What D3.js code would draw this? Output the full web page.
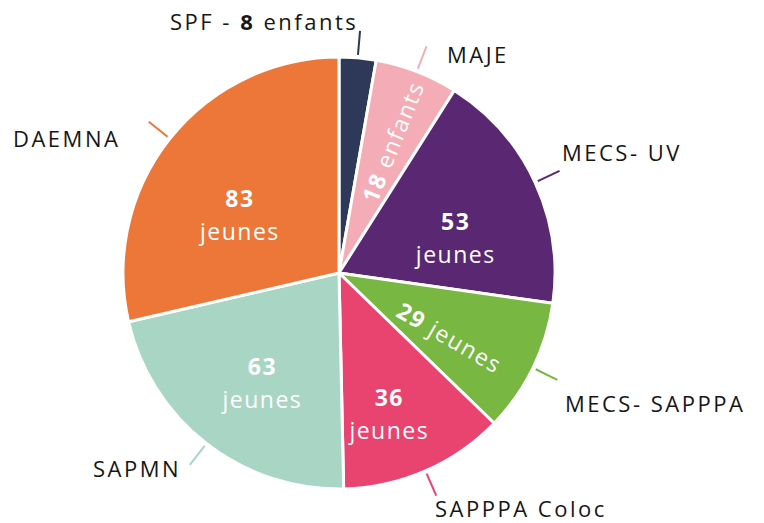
<!DOCTYPE html>
<html><head><meta charset="utf-8">
<script src="https://cdn.jsdelivr.net/npm/d3@7"></script>
<style>
html,body{margin:0;padding:0;background:#fff;}
svg{display:block;}
text{font-family:"Open Sans","Lato",sans-serif;}
</style></head>
<body>
<svg id="chart" width="764" height="523"></svg>
<script>
// ---- data ----
const categories = ["SPF", "MAJE", "MECS- UV", "MECS- SAPPPA", "SAPPPA Coloc", "SAPMN", "DAEMNA"];
const values = [8, 18, 53, 29, 36, 63, 83];
const units = ["enfants", "enfants", "jeunes", "jeunes", "jeunes", "jeunes", "jeunes"];
const colors = ["#2e3858", "#f4adb7", "#5a2873", "#78b742", "#e8446f", "#a9d5c4", "#ed7738"];

// ---- layout ----
const W = 764, H = 523;
const cx = 339, cy = 273, R = 216;
const inner = [
  {mode: "none"},
  {mode: "radial", dr: 142, da: 1, rot: -90},
  {mode: "stack", dr: 122, da: 8},
  {mode: "radial", dr: 128, da: 4, rot: -90},
  {mode: "stack", dr: 150, da: 4},
  {mode: "stack", dr: 134, da: -3},
  {mode: "stack", dr: 115, da: -8}
];
const outer = [
  {x: 170, y: 30},
  {x: 447, y: 63},
  {x: 562, y: 161},
  {x: 565, y: 412},
  {x: 435, y: 517},
  {x: 93, y: 477},
  {x: 13, y: 147}
];

const svg = d3.select("#chart");
const g = svg.append("g").attr("transform", `translate(${cx},${cy})`);

const pie = d3.pie().value(d => d).sort(null);
const arcs = pie(values);
const arc = d3.arc().innerRadius(0).outerRadius(R);

g.selectAll("path.slice").data(arcs).join("path")
  .attr("class", "slice")
  .attr("d", arc)
  .attr("fill", (d, i) => colors[i])
  .attr("stroke", "#fff")
  .attr("stroke-width", 3)
  .attr("stroke-linejoin", "round");

const deg = Math.PI / 180;
function polar(angle, r) { return [r * Math.sin(angle), -r * Math.cos(angle)]; }

g.selectAll("line.leader").data(arcs).join("line")
  .attr("class", "leader")
  .each(function(d, i) {
    const a = (d.startAngle + d.endAngle) / 2;
    const p0 = polar(a, R + 3), p1 = polar(a, R + 27);
    d3.select(this).attr("x1", p0[0]).attr("y1", p0[1]).attr("x2", p1[0]).attr("y2", p1[1]);
  })
  .attr("stroke", (d, i) => colors[i])
  .attr("stroke-width", 2);

arcs.forEach((d, i) => {
  const cfg = inner[i];
  if (cfg.mode === "none") return;
  const a = (d.startAngle + d.endAngle) / 2 + cfg.da * deg;
  const [x, y] = polar(a, cfg.dr);
  if (cfg.mode === "stack") {
    const t = g.append("text").attr("text-anchor", "middle").attr("fill", "#fff")
      .attr("font-size", 23).attr("letter-spacing", 1.5);
    t.append("tspan").attr("x", x).attr("y", y - 8).attr("font-weight", 700).text(values[i]);
    t.append("tspan").attr("x", x).attr("y", y + 25).attr("font-weight", 400).text(units[i]);
  } else {
    const rot = a / deg + cfg.rot;
    const t = g.append("text").attr("text-anchor", "middle").attr("dominant-baseline", "central")
      .attr("fill", "#fff").attr("font-size", 23).attr("letter-spacing", 1.5)
      .attr("transform", `translate(${x},${y}) rotate(${rot})`);
    t.append("tspan").attr("font-weight", 700).text(values[i]);
    t.append("tspan").attr("font-weight", 400).text(" " + units[i]);
  }
});

categories.forEach((c, i) => {
  const t = svg.append("text").attr("x", outer[i].x).attr("y", outer[i].y)
    .attr("fill", "#161616").attr("font-size", 22).attr("letter-spacing", 2.5);
  if (i === 0) {
    t.append("tspan").text(c + " - ");
    t.append("tspan").attr("font-weight", 700).text(values[i]);
    t.append("tspan").text(" " + units[i]);
  } else {
    t.text(c);
  }
});
</script>
</body></html>
